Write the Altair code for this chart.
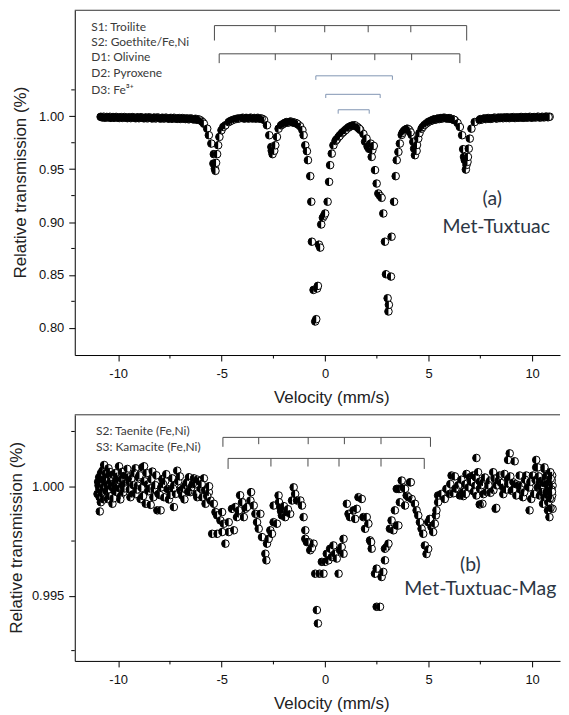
import altair as alt
import pandas as pd

# ---------------- data ----------------
# Panel (a) Met-Tuxtuac: (velocity mm/s, relative transmission)
spectrum_a = [
    (-10.85, .9995), (-10.75, .9990), (-10.65, .9987), (-10.55, .9994), (-10.45, .9991), (-10.35, .9985),
    (-10.25, .9993), (-10.15, .9988), (-10.05, .9990), (-9.95, .9984), (-9.85, .9992), (-9.75, .9987),
    (-9.65, .9989), (-9.55, .9983), (-9.45, .9991), (-9.35, .9986), (-9.25, .9988), (-9.15, .9982),
    (-9.05, .9990), (-8.95, .9985), (-8.85, .9987), (-8.75, .9981), (-8.65, .9989), (-8.55, .9984),
    (-8.45, .9986), (-8.35, .9980), (-8.25, .9988), (-8.15, .9983), (-8.05, .9985), (-7.95, .9979),
    (-7.85, .9986), (-7.75, .9982), (-7.65, .9984), (-7.55, .9978), (-7.45, .9985), (-7.35, .9980),
    (-7.25, .9982), (-7.15, .9976), (-7.05, .9983), (-6.95, .9978), (-6.85, .9980), (-6.75, .9974),
    (-6.65, .9980), (-6.55, .9975), (-6.45, .9977), (-6.35, .9971), (-6.25, .9976), (-6.15, .9969),
    (-6.05, .9965), (-5.98, .9955), (-5.92, .9945), (-5.86, .9930), (-5.70, .9883), (-5.62, .9821),
    (-5.50, .9742), (-5.38, .9642), (-5.40, .9553), (-5.33, .9505), (-5.30, .9484), (-5.27, .9560),
    (-5.22, .9642), (-5.17, .9726), (-5.11, .9805), (-5.01, .9868), (-4.92, .9900), (-4.82, .9915),
    (-4.66, .9945), (-4.50, .9962), (-4.30, .9975), (-4.15, .9980), (-4.02, .9984), (-3.92, .9979),
    (-3.82, .9985), (-3.72, .9981), (-3.62, .9986), (-3.52, .9980), (-3.42, .9984), (-3.32, .9979),
    (-3.22, .9983), (-3.12, .9977), (-3.02, .9975), (-2.95, .9965), (-2.81, .9915), (-2.70, .9821),
    (-2.60, .9710), (-2.58, .9674), (-2.54, .9642), (-2.46, .9674), (-2.41, .9726), (-2.33, .9805),
    (-2.25, .9883), (-2.13, .9915), (-2.07, .9922), (-2.01, .9930), (-1.91, .9940), (-1.81, .9943),
    (-1.71, .9948), (-1.61, .9946), (-1.51, .9940), (-1.41, .9935), (-1.31, .9922), (-1.21, .9906),
    (-1.10, .9870), (-1.04, .9821), (-0.96, .9726), (-0.88, .9670), (-0.83, .9585), (-0.72, .9434),
    (-0.67, .9192), (-0.64, .8814), (-0.56, .8358), (-0.48, .8059), (-0.43, .8081), (-0.39, .8371),
    (-0.35, .8396), (-0.30, .8786), (-0.24, .8758), (-0.19, .8977), (-0.11, .9041), (-0.05, .9060),
    (0.00, .9081), (0.12, .9192), (0.19, .9380), (0.24, .9538), (0.32, .9647), (0.40, .9726),
    (0.50, .9767), (0.58, .9786), (0.65, .9805), (0.72, .9822), (0.80, .9838), (0.88, .9852),
    (0.95, .9866), (1.02, .9878), (1.10, .9890), (1.18, .9900), (1.25, .9908), (1.32, .9912),
    (1.40, .9913), (1.48, .9907), (1.55, .9899), (1.62, .9886), (1.70, .9871), (1.85, .9833),
    (1.93, .9760), (2.00, .9790), (2.05, .9715), (2.12, .9692), (2.20, .9742), (2.25, .9616),
    (2.28, .9680), (2.35, .9720), (2.41, .9491), (2.49, .9364), (2.57, .9270), (2.65, .9248),
    (2.73, .9229), (2.81, .9081), (2.89, .8814), (2.94, .8506), (3.02, .8279), (3.06, .8154),
    (3.08, .8217), (3.18, .8484), (3.21, .8861), (3.33, .9192), (3.41, .9434), (3.46, .9585),
    (3.54, .9663), (3.61, .9742), (3.70, .9824), (3.79, .9857), (3.89, .9875), (3.98, .9883),
    (4.08, .9866), (4.18, .9824), (4.26, .9758), (4.30, .9694), (4.34, .9632), (4.42, .9673),
    (4.44, .9729), (4.50, .9789), (4.56, .9842), (4.66, .9883), (4.72, .9900), (4.80, .9918),
    (4.89, .9932), (4.98, .9946), (5.06, .9953), (5.14, .9960), (5.22, .9966), (5.31, .9970),
    (5.39, .9975), (5.47, .9977), (5.55, .9978), (5.62, .9982), (5.70, .9985), (5.79, .9984),
    (5.87, .9981), (5.95, .9981), (6.03, .9979), (6.11, .9975), (6.19, .9969), (6.27, .9962),
    (6.40, .9937), (6.51, .9899), (6.62, .9821), (6.67, .9689), (6.71, .9616), (6.75, .9585),
    (6.80, .9496), (6.83, .9540), (6.88, .9569), (6.90, .9616), (6.94, .9694), (6.99, .9789),
    (7.07, .9883), (7.23, .9946), (7.46, .9965), (7.55, .9970), (7.65, .9977), (7.75, .9974),
    (7.85, .9982), (7.95, .9978), (8.05, .9980), (8.15, .9985), (8.25, .9981), (8.35, .9987),
    (8.45, .9983), (8.55, .9985), (8.65, .9989), (8.75, .9984), (8.85, .9988), (8.95, .9986),
    (9.05, .9990), (9.15, .9985), (9.25, .9989), (9.35, .9987), (9.45, .9992), (9.55, .9987),
    (9.65, .9991), (9.75, .9988), (9.85, .9993), (9.95, .9989), (10.05, .9992), (10.15, .9990),
    (10.25, .9994), (10.35, .9990), (10.45, .9993), (10.55, .9991), (10.65, .9995), (10.75, .9992),
    (10.85, .9996),
    # interleaved channels of the dense baseline
    (-10.80, .9992), (-10.70, .9996), (-10.60, .9989), (-10.50, .9990), (-10.40, .9995), (-10.30, .9989),
    (-10.20, .9986), (-10.10, .9994), (-10.00, .9987), (-9.90, .9990), (-9.80, .9985), (-9.70, .9993),
    (-9.60, .9986), (-9.50, .9988), (-9.40, .9983), (-9.30, .9992), (-9.20, .9985), (-9.10, .9987),
    (-9.00, .9982), (-8.90, .9991), (-8.80, .9984), (-8.70, .9986), (-8.60, .9981), (-8.50, .9990),
    (-8.40, .9983), (-8.30, .9985), (-8.20, .9980), (-8.10, .9989), (-8.00, .9982), (-7.90, .9984),
    (-7.80, .9979), (-7.70, .9987), (-7.60, .9981), (-7.50, .9983), (-7.40, .9977), (-7.30, .9986),
    (-7.20, .9979), (-7.10, .9981), (-7.00, .9975), (-6.90, .9983), (-6.80, .9977), (-6.70, .9978),
    (-6.60, .9972), (-6.50, .9979), (-6.40, .9973), (-6.30, .9974), (-6.20, .9967), (-6.10, .9970),
    (7.50, .9973), (7.60, .9972), (7.70, .9980), (7.80, .9976), (7.90, .9983), (8.00, .9976),
    (8.10, .9982), (8.20, .9987), (8.30, .9979), (8.40, .9986), (8.50, .9988), (8.60, .9982),
    (8.70, .9987), (8.80, .9990), (8.90, .9983), (9.00, .9988), (9.10, .9992), (9.20, .9985),
    (9.30, .9990), (9.40, .9988), (9.50, .9993), (9.60, .9986), (9.70, .9993), (9.80, .9989),
    (9.90, .9995), (10.00, .9987), (10.10, .9993), (10.20, .9991), (10.30, .9996), (10.40, .9989),
    (10.50, .9995), (10.60, .9992), (10.70, .9997), (10.80, .9993),
    (-3.97, .9986), (-3.87, .9981), (-3.77, .9983), (-3.67, .9980), (-3.57, .9985), (-3.47, .9982),
    (-3.37, .9981), (-3.27, .9985), (-3.17, .9980), (-3.07, .9978),
    (5.18, .9963), (5.27, .9972), (5.35, .9969), (5.43, .9978), (5.51, .9974), (5.59, .9983),
    (5.66, .9979), (5.75, .9986), (5.83, .9983), (5.91, .9979), (5.99, .9983), (6.07, .9977),
    (6.15, .9972), (6.23, .9967),
    (-1.96, .9936), (-1.86, .9945), (-1.76, .9941), (-1.66, .9950), (-1.56, .9943), (-1.46, .9939),
    (-1.36, .9930), (0.54, .9778), (0.69, .9812), (0.84, .9847), (0.99, .9870), (1.14, .9897),
    (1.29, .9910), (1.44, .9915), (1.59, .9893), (1.66, .9880),
    (3.74, .9843), (3.84, .9868), (3.94, .9880), (4.03, .9877), (4.13, .9848),
    (-4.40, .9970), (-4.22, .9978), (-4.58, .9955),
]

# Panel (b) Met-Tuxtuac-Mag
spectrum_b = [
    (-10.89, .99885), (-10.84, .99927), (-11.00, .99965), (-10.95, 1.00003), (-10.92, 1.00041),
    (-10.76, 1.00071), (-10.68, 1.00097), (-10.80, .99973), (-10.60, 1.00018), (-10.52, .99942),
    (-10.44, 1.00049), (-10.28, .99920), (-10.20, .99980), (-10.12, 1.00026), (-9.96, 1.00091),
    (-9.88, .99958), (-9.80, 1.00003), (-9.72, 1.00049), (-9.56, 1.00079), (-9.47, 1.00018),
    (-9.31, .99965), (-9.16, 1.00082), (-9.07, 1.00003), (-8.92, .99942), (-8.83, 1.00086),
    (-8.75, 1.00091), (-8.67, .99920), (-8.59, 1.00010), (-8.43, .99915), (-8.35, 1.00067),
    (-8.27, .99988), (-8.11, .99890), (-7.95, .99890), (-7.87, 1.00033), (-7.79, .99950),
    (-7.63, .99988), (-7.55, .99940), (-7.39, 1.00036), (-7.31, .99905), (-7.15, 1.00071),
    (-7.23, .99965), (-6.99, .99980), (-6.91, .99958), (-6.75, 1.00003), (-6.58, 1.00041),
    (-6.51, .99973), (-6.34, 1.00036), (-6.18, 1.00030), (-6.18, .99950), (-6.02, .99988),
    (-5.94, .99950), (-5.86, 1.00036), (-5.78, .99920), (-5.62, .99973), (-5.54, .99935),
    (-5.38, .99920), (-5.30, .99882), (-5.22, .99867), (-4.98, .99882), (-5.06, .99844),
    (-4.90, .99829), (-4.66, .99836), (-4.50, .99897), (-4.34, .99905), (-4.17, .99874),
    (-4.01, .99927), (-3.86, .99897), (-4.41, .99799), (-4.66, .99791), (-4.98, .99791),
    (-5.22, .99783), (-5.46, .99783), (-4.82, .99738),
    (-10.91, .99986), (-10.86, 1.00014), (-10.81, 1.00041), (-10.76, .99964), (-10.71, .99995),
    (-10.66, 1.00027), (-10.62, 1.00059), (-10.57, .99977), (-10.52, 1.00005), (-10.47, 1.00082),
    (-10.42, .99955), (-10.38, 1.00023), (-10.33, .99995), (-10.28, 1.00055), (-10.18, 1.00009),
    (-10.09, .99973), (-10.04, 1.00045), (-9.94, .99991), (-9.85, 1.00032), (-9.75, .99973),
    (-9.65, 1.00014), (-9.60, 1.00050), (-9.46, .99986), (-9.36, 1.00036), (-9.27, 1.00005),
    (-9.17, .99964), (-9.03, 1.00041), (-8.88, .99991), (-8.74, 1.00023), (-8.55, .99977),
    (-8.40, 1.00032), (-8.21, 1.00005), (-8.07, .99964), (-7.92, .99995), (-7.73, 1.00023),
    (-7.53, .99982), (-7.29, 1.00005), (-7.10, 1.00023), (-6.86, .99991), (-6.67, 1.00018),
    (-6.47, .99995), (-6.28, 1.00009), (-6.09, 1.00023), (-5.80, .99982), (-5.61, 1.00000),
    (-10.97, 1.00020), (-10.90, .99950), (-10.83, 1.00060), (-10.74, 1.00030), (-10.69, .99940),
    (-10.58, 1.00040), (-10.49, .99985), (-10.40, 1.00065), (-10.31, 1.00010), (-10.23, .99945),
    (-10.14, 1.00060), (-10.06, .99995), (-9.99, 1.00030), (-9.90, .99940), (-9.82, 1.00065),
    (-9.69, .99990), (-9.52, 1.00040), (-9.41, .99950), (-9.22, 1.00060), (-9.10, .99985),
    (-8.97, 1.00050), (-8.80, .99955), (-8.63, 1.00060), (-8.47, .99990), (-8.30, .99950),
    (-8.16, 1.00050), (-7.99, .99960), (-7.83, 1.00010), (-7.68, 1.00055), (-7.47, .99960),
    (-7.35, .99990), (-7.02, 1.00045), (-6.80, .99940), (-6.62, .99975), (-6.40, 1.00010),
    (-6.22, .99965), (-5.97, 1.00010), (-5.70, .99955),
    (-4.17, .99890), (-4.01, .99927), (-3.93, .99859), (-3.77, .99905), (-3.61, .99935),
    (-3.58, .99973), (-3.45, .99912), (-3.37, .99874), (-3.29, .99836), (-3.21, .99806),
    (-3.13, .99874), (-3.05, .99768), (-2.89, .99692), (-2.84, .99662), (-2.81, .99738),
    (-2.73, .99760), (-2.65, .99799), (-2.57, .99783), (-2.49, .99836), (-2.49, .99912),
    (-2.33, .99829), (-2.25, .99958), (-2.17, .99905), (-2.09, .99867), (-2.00, .99890),
    (-1.93, .99859), (-1.85, .99882), (-1.69, .99874), (-1.60, .99935), (-1.52, .99995),
    (-1.45, .99965), (-1.36, .99935), (-1.20, .99935), (-1.12, .99912), (-1.04, .99859),
    (-0.96, .99799), (-0.96, .99760), (-0.80, .99745), (-0.72, .99708), (-0.56, .99738),
    (-0.48, .99601), (-0.40, .99435), (-0.35, .99374), (-0.27, .99601), (-0.16, .99655),
    (-0.08, .99601), (0.00, .99655), (0.08, .99692), (0.16, .99662), (0.24, .99715),
    (0.32, .99677), (0.40, .99730), (0.48, .99692), (0.56, .99670), (0.65, .99601),
    (0.72, .99708), (0.80, .99723), (0.89, .99760), (0.89, .99692), (1.05, .99920),
    (1.13, .99874), (1.20, .99859), (1.37, .99890), (1.45, .99851), (1.53, .99897),
    (1.61, .99950), (1.77, .99942), (1.85, .99859), (1.93, .99806), (2.01, .99859),
    (2.09, .99829), (2.17, .99753), (2.25, .99715), (2.41, .99601), (2.49, .99450),
    (2.65, .99450), (2.73, .99586), (2.81, .99609), (2.89, .99662), (2.97, .99723),
    (3.06, .99738), (3.13, .99806), (3.21, .99844), (3.30, .99799), (3.37, .99890),
    (3.46, .99821), (3.54, .99988), (3.61, .99927),
    (-2.23, .99927), (-1.99, .99909), (-1.80, .99895), (-2.13, .99886), (-4.26, .99859),
    (-4.11, .99959), (-0.88, .99745), (-0.64, .99718), (2.22, .99745), (2.49, .99624),
    (2.89, .99715), (4.90, .99691), (4.98, .99714),
    (3.54, .99821), (3.61, .99988), (3.78, .99995), (4.10, 1.00018), (3.94, .99958),
    (3.86, .99912), (4.18, .99942), (4.34, .99920), (4.42, .99890), (4.50, .99867),
    (4.58, .99836), (4.66, .99806), (4.74, .99783), (4.82, .99730), (4.98, .99836),
    (5.06, .99851), (5.14, .99814), (5.22, .99791), (5.30, .99829), (5.35, .99867),
    (5.38, .99890), (5.46, .99927), (5.46, .99958), (5.62, .99965), (5.78, .99942),
    (5.86, .99988), (6.02, .99965), (6.11, 1.00049), (6.27, 1.00045), (6.35, .99988),
    (6.51, .99958), (6.67, .99973), (6.75, 1.00010), (6.83, 1.00056), (6.99, 1.00041),
    (7.15, 1.00049), (7.23, 1.00003), (7.31, .99958), (7.39, 1.00064), (7.47, .99988),
    (7.60, .99920), (7.63, 1.00018), (7.79, .99973), (7.95, 1.00026), (8.12, 1.00064),
    (8.24, .99897), (8.27, 1.00003), (8.43, 1.00049), (8.60, .99995), (8.67, 1.00056),
    (8.84, 1.00033), (9.00, .99980), (9.08, 1.00018), (9.24, .99958), (9.40, 1.00049),
    (9.48, 1.00003), (9.56, .99950), (9.72, 1.00049), (9.80, .99995), (9.88, .99890),
    (9.96, .99942), (10.04, 1.00049), (10.20, 1.00086), (10.28, .99995), (10.36, .99958),
    (10.44, 1.00026), (10.53, .99920), (10.60, 1.00079), (10.68, 1.00010), (10.77, .99890),
    (10.84, .99859), (10.84, .99973), (10.93, .99942), (10.97, 1.00049), (10.99, .99897),
    (10.99, 1.00003),
    (7.31, 1.00129), (8.92, 1.00150), (8.84, 1.00120), (9.16, 1.00114), (10.20, 1.00120),
    (10.28, 1.00086), (10.60, 1.00086), (8.27, .99901), (7.47, .99917), (10.89, .99901),
    (3.46, .99988), (3.70, 1.00026), (3.86, .99988), (4.02, .99950), (4.14, 1.00018),
    (10.44, .99995), (10.68, .99973), (10.83, 1.00018), (10.93, .99986), (10.97, .99959),
    (10.64, 1.00041), (10.35, 1.00018), (10.78, .99927), (10.95, 1.00027), (10.88, 1.00064),
    (10.73, .99959), (10.49, .99973), (10.15, 1.00027), (9.87, .99995), (9.62, .99973),
    (9.33, 1.00005), (9.09, .99986), (8.85, 1.00009), (8.61, .99964), (8.37, 1.00027),
    (8.13, .99982), (7.89, 1.00005), (7.65, .99964), (7.46, 1.00023), (7.17, .99977),
    (6.93, .99995), (6.68, .99955), (6.44, 1.00005), (6.20, .99968),
    (6.05, 1.00010), (6.30, .99990), (6.58, 1.00030), (6.80, .99965), (7.05, 1.00020),
    (7.28, 1.00040), (7.55, 1.00005), (7.72, 1.00040), (7.99, .99970), (8.19, 1.00035),
    (8.50, 1.00015), (8.74, .99985), (8.95, 1.00045), (9.20, 1.00010), (9.45, .99985),
    (9.66, 1.00030), (9.92, 1.00020), (10.10, .99965), (10.32, 1.00045), (10.56, 1.00015),
    (10.72, 1.00050), (10.80, .99995), (10.90, 1.00035), (10.96, .99975), (10.86, .99945),
    (10.60, .99950),
]

velocity_ticks = [-10, -5, 0, 5, 10]
velocity_minor = [-7.5, -2.5, 2.5, 7.5]
trans_ticks_a = [0.80, 0.85, 0.90, 0.95, 1.00]
trans_minor_a = [0.825, 0.875, 0.925, 0.975, 1.025]
trans_ticks_b = [0.995, 1.000]
trans_minor_b = [0.9925, 0.9975, 1.0025]

# stick diagrams (line positions, mm/s)
s1_troilite = [-5.35, -2.41, -0.02, 2.08, 4.14, 6.84]
s2_goethite = [-5.12, -2.41, 0.30, 2.40, 4.18, 6.51]
d1_olivine = [-0.45, 3.25]
d2_pyroxene = [0.03, 2.66]
d3_fe3 = [0.63, 2.13]
s2_taenite = [-4.94, -3.21, -0.82, 0.93, 2.70, 5.09]
s3_kamacite = [-4.69, -2.62, -0.83, 0.67, 2.70, 4.79]

labels_a = ["S1: Troilite", "S2: Goethite/Fe,Ni", "D1: Olivine", "D2: Pyroxene", "D3: Fe\u00b3\u207a"]
labels_b = ["S2: Taenite (Fe,Ni)", "S3: Kamacite (Fe,Ni)"]
sample_a = ["(a)", "Met-Tuxtuac"]
sample_b = ["(b)", "Met-Tuxtuac-Mag"]
x_title = "Velocity (mm/s)"
y_title = "Relative transmission (%)"

# ---------------- styling / layout ----------------
AX_FONT = "Liberation Sans"
TX_FONT = "Lato"
HALF = "M0,-1C-0.552,-1,-1,-0.552,-1,0C-1,0.552,-0.552,1,0,1Z"
X_DOM = [-12.1, 11.35]
W = 487
MSIZE = 58


def text_layer(label, px, py, **kw):
    return alt.Chart(pd.DataFrame({"label": [label]})).mark_text(**kw).encode(
        x=alt.value(px), y=alt.value(py), text="label:N")


def panel(spec, ydom, H, yticks, yfmt, yminor, brackets, small_labels, small_pos,
          big_labels, big_pos, ytitle_x):
    xs = alt.Scale(domain=X_DOM, nice=False, zero=False)
    ys = alt.Scale(domain=ydom, nice=False, zero=False)
    df = pd.DataFrame(spec, columns=["v", "t"])
    xaxis = alt.Axis(values=velocity_ticks, labelExpr="'' + datum.value",
                     title=None, tickSize=6, labelPadding=7, grid=False)
    yaxis = alt.Axis(values=yticks, format=yfmt, title=None,
                     tickSize=6, labelPadding=5, grid=False)

    def X(f):
        return alt.X(f, scale=xs, axis=xaxis)

    def Y(f):
        return alt.Y(f, scale=ys, axis=yaxis)

    base = alt.Chart(df)
    circ = base.mark_point(shape="circle", size=MSIZE, fill="white", stroke="black",
                           strokeWidth=1.0, opacity=1, fillOpacity=1).encode(
        x=X("v:Q"), y=Y("t:Q"))
    half = base.mark_point(shape=HALF, size=MSIZE, filled=True, fill="black",
                           strokeWidth=0, opacity=1, fillOpacity=1).encode(
        x=X("v:Q"), y=Y("t:Q"))

    ymin = alt.Chart(pd.DataFrame({"m": yminor})).mark_rule(color="black", strokeWidth=1).encode(
        y=Y("m:Q"), x=alt.value(0), x2=alt.value(-3.5))
    xmin = alt.Chart(pd.DataFrame({"m": velocity_minor})).mark_rule(color="black", strokeWidth=1).encode(
        x=X("m:Q"), y=alt.value(H), y2=alt.value(H + 3.5))
    top = alt.Chart(pd.DataFrame({"x1": [X_DOM[0]], "x2": [X_DOM[1]], "y": [ydom[1]]})).mark_rule(
        color="#333333", strokeWidth=1).encode(x=X("x1:Q"), x2="x2:Q", y=Y("y:Q"))

    hl, tk = [], []
    for pos, yl, ye, yi, col in brackets:
        hl.append({"x1": min(pos), "x2": max(pos), "y": yl, "c": col})
        for i, p in enumerate(pos):
            end = i == 0 or i == len(pos) - 1
            tk.append({"x": p, "y1": yl, "y2": ye if end else yi, "c": col})
    hlc = alt.Chart(pd.DataFrame(hl)).mark_rule(strokeWidth=1).encode(
        x=X("x1:Q"), x2="x2:Q", y=Y("y:Q"), color=alt.Color("c:N", scale=None))
    tkc = alt.Chart(pd.DataFrame(tk)).mark_rule(strokeWidth=1).encode(
        x=X("x:Q"), y=Y("y1:Q"), y2="y2:Q", color=alt.Color("c:N", scale=None))

    texts = []
    for lab, (px, py) in zip(small_labels, small_pos):
        texts.append(text_layer(lab, px, py, align="left", baseline="middle", font=TX_FONT,
                                fontSize=12, color="#3a3a3a"))
    for lab, (px, py) in zip(big_labels, big_pos):
        texts.append(text_layer(lab, px, py, align="center", baseline="middle", font=TX_FONT,
                                fontSize=19.5, color="#2c3644"))
    texts.append(text_layer(x_title, 258, H + 43.5, align="center", baseline="middle",
                            font=AX_FONT, fontSize=17, color="#222222"))
    texts.append(text_layer(y_title, ytitle_x, H / 2, align="center", baseline="middle",
                            angle=270, font=AX_FONT, fontSize=17, color="#222222"))

    return alt.layer(circ, half, ymin, xmin, top, hlc, tkc, *texts).properties(width=W, height=H)


DARK = "#4a4a4a"
BLUE = "#8296b3"
brackets_a = [
    (s1_troilite, 1.0858, 1.0717, 1.0795, DARK),
    (s2_goethite, 1.0591, 1.0503, 1.0531, DARK),
    (d1_olivine, 1.0383, 1.0345, 1.0345, BLUE),
    (d2_pyroxene, 1.0208, 1.0173, 1.0173, BLUE),
    (d3_fe3, 1.0062, 1.0025, 1.0025, BLUE),
]
brackets_b = [
    (s2_taenite, 1.00223, 1.00180, 1.00192, DARK),
    (s3_kamacite, 1.00127, 1.00079, 1.00090, DARK),
]

pa = panel(spectrum_a, [0.7742, 1.1003], 346, trans_ticks_a, ".2f", trans_minor_a, brackets_a,
           labels_a, [(16.5, 16.7), (16.5, 32), (16.5, 47), (16.5, 63.4), (16.5, 80)],
           sample_a, [(419, 189.4), (423, 217.7)], -54)
pb = panel(spectrum_b, [0.99203, 1.00326], 247, trans_ticks_b, ".3f", trans_minor_b, brackets_b,
           labels_b, [(21.3, 16.7), (21.3, 32)],
           sample_b, [(397, 151), (407, 174.4)], -58)

chart = alt.vconcat(pa, pb, spacing=7).properties(
    padding={"left": 0, "top": 0, "right": 0, "bottom": 0}
).configure_view(stroke=None).configure_axis(
    labelFont=AX_FONT, labelFontSize=13, labelColor="#111111",
    domainColor="black", tickColor="black", domainWidth=1, tickWidth=1,
)

chart.save("out.html", embed_options={"renderer": "svg", "actions": False})
